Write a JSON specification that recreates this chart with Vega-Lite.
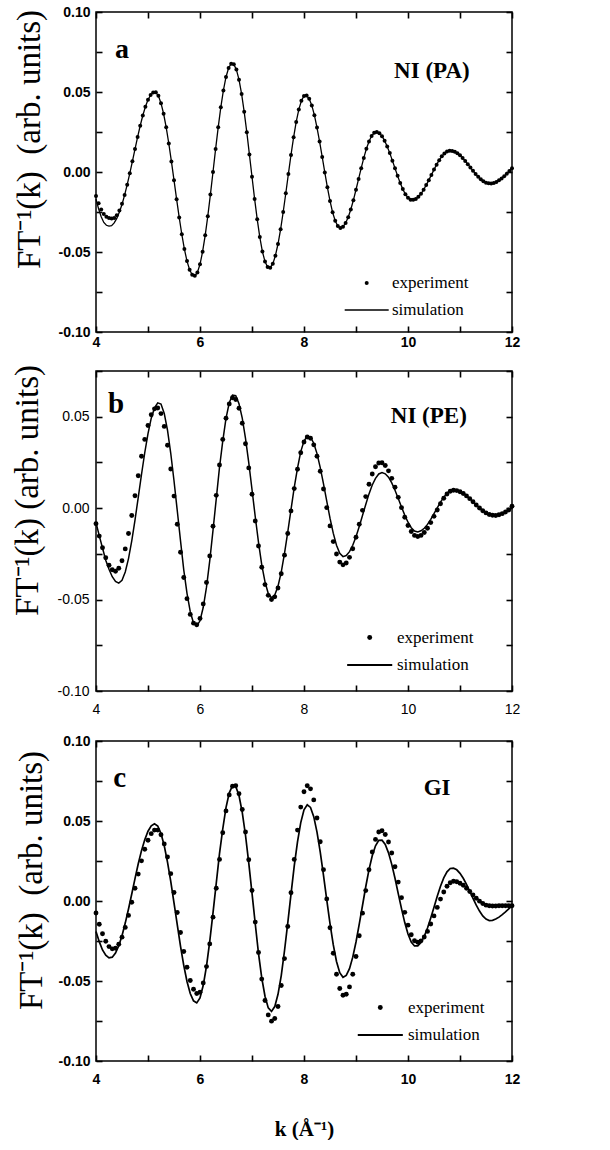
{
  "$schema": "https://vega.github.io/schema/vega-lite/v6.json",
  "background": "white",
  "padding": {"left": 10, "top": 4, "right": 0, "bottom": 0},
  "spacing": 13,
  "resolve": {"scale": {"shape": "independent"}, "legend": {"shape": "independent"}},
  "config": {
    "view": {"stroke": "black", "strokeWidth": 1.5},
    "axis": {"domain": false, "grid": false, "ticks": true, "tickSize": 6, "offset": -6, "tickColor": "black", "tickWidth": 1.6, "labelColor": "black", "labelFont": "Liberation Sans", "labelFontSize": 14, "titleColor": "black", "titleFont": "Liberation Serif", "titleFontSize": 33, "titleFontWeight": "normal"},
    "text": {"color": "black"}
  },
  "datasets": {
    "a": [
      {"k":4,"e":-0.015,"s":-0.017},{"k":4.05,"e":-0.0195,"s":-0.023},{"k":4.1,"e":-0.0235,"s":-0.028},{"k":4.15,"e":-0.0262,"s":-0.0315},{"k":4.2,"e":-0.028,"s":-0.0333},{"k":4.25,"e":-0.0288,"s":-0.0338},{"k":4.3,"e":-0.0291,"s":-0.0335},{"k":4.35,"e":-0.0287,"s":-0.0318},{"k":4.4,"e":-0.0271,"s":-0.029},{"k":4.45,"e":-0.0241,"s":-0.025},{"k":4.5,"e":-0.0198,"s":-0.0203},{"k":4.55,"e":-0.0143,"s":-0.0145},{"k":4.6,"e":-0.0079,"s":-0.0079},
      {"k":4.65,"e":-0.0008,"s":-0.0008},{"k":4.7,"e":0.0067,"s":0.0067},{"k":4.75,"e":0.0143,"s":0.0143},{"k":4.8,"e":0.0218,"s":0.0218},{"k":4.85,"e":0.0289,"s":0.0289},{"k":4.9,"e":0.0353,"s":0.0353},{"k":4.95,"e":0.0408,"s":0.0408},{"k":5,"e":0.0451,"s":0.0451},{"k":5.05,"e":0.0481,"s":0.0481},{"k":5.1,"e":0.0497,"s":0.0497},
      {"k":5.15,"e":0.0498,"s":0.0498},{"k":5.2,"e":0.0476,"s":0.0476},{"k":5.25,"e":0.043,"s":0.043},{"k":5.3,"e":0.0364,"s":0.0364},{"k":5.35,"e":0.0279,"s":0.0279},{"k":5.4,"e":0.0178,"s":0.0178},{"k":5.45,"e":0.0066,"s":0.0066},{"k":5.5,"e":-0.0051,"s":-0.0051},{"k":5.55,"e":-0.017,"s":-0.017},{"k":5.6,"e":-0.0284,"s":-0.0284},
      {"k":5.65,"e":-0.0389,"s":-0.0389},{"k":5.7,"e":-0.0482,"s":-0.0482},{"k":5.75,"e":-0.0557,"s":-0.0557},{"k":5.8,"e":-0.0611,"s":-0.0611},{"k":5.85,"e":-0.0642,"s":-0.0642},{"k":5.9,"e":-0.0649,"s":-0.0649},{"k":5.95,"e":-0.0628,"s":-0.0628},{"k":6,"e":-0.0577,"s":-0.0577},{"k":6.05,"e":-0.0498,"s":-0.0498},{"k":6.1,"e":-0.0396,"s":-0.0396},
      {"k":6.15,"e":-0.0276,"s":-0.0276},{"k":6.2,"e":-0.0141,"s":-0.0141},{"k":6.25,"e":0,"s":0},{"k":6.3,"e":0.0143,"s":0.0143},{"k":6.35,"e":0.0279,"s":0.0279},{"k":6.4,"e":0.0404,"s":0.0404},{"k":6.45,"e":0.051,"s":0.051},{"k":6.5,"e":0.0594,"s":0.0594},{"k":6.55,"e":0.065,"s":0.065},{"k":6.6,"e":0.0677,"s":0.0677},
      {"k":6.65,"e":0.0674,"s":0.0674},{"k":6.7,"e":0.064,"s":0.064},{"k":6.75,"e":0.0577,"s":0.0577},{"k":6.8,"e":0.0488,"s":0.0488},{"k":6.85,"e":0.0376,"s":0.0376},{"k":6.9,"e":0.0249,"s":0.0249},{"k":6.95,"e":0.011,"s":0.011},{"k":7,"e":-0.003,"s":-0.003},{"k":7.05,"e":-0.0168,"s":-0.0168},{"k":7.1,"e":-0.0295,"s":-0.0295},
      {"k":7.15,"e":-0.0407,"s":-0.0407},{"k":7.2,"e":-0.0497,"s":-0.0497},{"k":7.25,"e":-0.056,"s":-0.056},{"k":7.3,"e":-0.0594,"s":-0.0594},{"k":7.35,"e":-0.0598,"s":-0.0598},{"k":7.4,"e":-0.0574,"s":-0.0574},{"k":7.45,"e":-0.0523,"s":-0.0523},{"k":7.5,"e":-0.045,"s":-0.045},{"k":7.55,"e":-0.0358,"s":-0.0358},{"k":7.6,"e":-0.025,"s":-0.025},
      {"k":7.65,"e":-0.0133,"s":-0.0133},{"k":7.7,"e":-0.0012,"s":-0.0012},{"k":7.75,"e":0.0107,"s":0.0107},{"k":7.8,"e":0.0217,"s":0.0217},{"k":7.85,"e":0.0313,"s":0.0313},{"k":7.9,"e":0.039,"s":0.039},{"k":7.95,"e":0.0445,"s":0.0445},{"k":8,"e":0.0475,"s":0.0475},{"k":8.05,"e":0.0478,"s":0.0478},{"k":8.1,"e":0.0458,"s":0.0458},
      {"k":8.15,"e":0.0416,"s":0.0416},{"k":8.2,"e":0.0355,"s":0.0355},{"k":8.25,"e":0.0278,"s":0.0278},{"k":8.3,"e":0.019,"s":0.019},{"k":8.35,"e":0.0094,"s":0.0094},{"k":8.4,"e":-0.0003,"s":-0.0003},{"k":8.45,"e":-0.0096,"s":-0.0096},{"k":8.5,"e":-0.0181,"s":-0.0181},{"k":8.55,"e":-0.0252,"s":-0.0252},{"k":8.6,"e":-0.0305,"s":-0.0305},
      {"k":8.65,"e":-0.0338,"s":-0.0338},{"k":8.7,"e":-0.035,"s":-0.035},{"k":8.75,"e":-0.0342,"s":-0.0342},{"k":8.8,"e":-0.0319,"s":-0.0319},{"k":8.85,"e":-0.0283,"s":-0.0283},{"k":8.9,"e":-0.0234,"s":-0.0234},{"k":8.95,"e":-0.0176,"s":-0.0176},{"k":9,"e":-0.0111,"s":-0.0111},{"k":9.05,"e":-0.0043,"s":-0.0043},{"k":9.1,"e":0.0024,"s":0.0024},
      {"k":9.15,"e":0.0088,"s":0.0088},{"k":9.2,"e":0.0145,"s":0.0145},{"k":9.25,"e":0.0191,"s":0.0191},{"k":9.3,"e":0.0225,"s":0.0225},{"k":9.35,"e":0.0245,"s":0.0245},{"k":9.4,"e":0.025,"s":0.025},{"k":9.45,"e":0.0242,"s":0.0242},{"k":9.5,"e":0.0224,"s":0.0224},{"k":9.55,"e":0.0196,"s":0.0196},{"k":9.6,"e":0.016,"s":0.016},
      {"k":9.65,"e":0.0118,"s":0.0118},{"k":9.7,"e":0.0071,"s":0.0071},{"k":9.75,"e":0.0023,"s":0.0023},{"k":9.8,"e":-0.0024,"s":-0.0024},{"k":9.85,"e":-0.0069,"s":-0.0069},{"k":9.9,"e":-0.0107,"s":-0.0107},{"k":9.95,"e":-0.0139,"s":-0.0139},{"k":10,"e":-0.0161,"s":-0.0161},{"k":10.05,"e":-0.0173,"s":-0.0173},{"k":10.1,"e":-0.0174,"s":-0.0174},
      {"k":10.15,"e":-0.0168,"s":-0.0168},{"k":10.2,"e":-0.0155,"s":-0.0155},{"k":10.25,"e":-0.0136,"s":-0.0136},{"k":10.3,"e":-0.0111,"s":-0.0111},{"k":10.35,"e":-0.0082,"s":-0.0082},{"k":10.4,"e":-0.0051,"s":-0.0051},{"k":10.45,"e":-0.0018,"s":-0.0018},{"k":10.5,"e":0.0015,"s":0.0015},{"k":10.55,"e":0.0046,"s":0.0046},{"k":10.6,"e":0.0074,"s":0.0074},
      {"k":10.65,"e":0.0098,"s":0.0098},{"k":10.7,"e":0.0116,"s":0.0116},{"k":10.75,"e":0.0128,"s":0.0128},{"k":10.8,"e":0.0133,"s":0.0133},{"k":10.85,"e":0.0132,"s":0.0132},{"k":10.9,"e":0.0126,"s":0.0126},{"k":10.95,"e":0.0117,"s":0.0117},{"k":11,"e":0.0104,"s":0.0104},{"k":11.05,"e":0.0088,"s":0.0088},{"k":11.1,"e":0.0069,"s":0.0069},
      {"k":11.15,"e":0.0049,"s":0.0049},{"k":11.2,"e":0.0028,"s":0.0028},{"k":11.25,"e":0.0008,"s":0.0008},{"k":11.3,"e":-0.0012,"s":-0.0012},{"k":11.35,"e":-0.003,"s":-0.003},{"k":11.4,"e":-0.0046,"s":-0.0046},{"k":11.45,"e":-0.0058,"s":-0.0058},{"k":11.5,"e":-0.0067,"s":-0.0067},{"k":11.55,"e":-0.0071,"s":-0.0071},{"k":11.6,"e":-0.0072,"s":-0.0072},
      {"k":11.65,"e":-0.0069,"s":-0.0069},{"k":11.7,"e":-0.0062,"s":-0.0062},{"k":11.75,"e":-0.0052,"s":-0.0052},{"k":11.8,"e":-0.004,"s":-0.004},{"k":11.85,"e":-0.0026,"s":-0.0026},{"k":11.9,"e":-0.0011,"s":-0.0011},{"k":11.95,"e":0.0006,"s":0.0006},{"k":12,"e":0.0023,"s":0.0023}
    ],
    "b": [
      {"k":4,"e":-0.0085,"s":-0.008},{"k":4.0625,"e":-0.0153,"s":-0.015},{"k":4.125,"e":-0.0217,"s":-0.0218},{"k":4.1875,"e":-0.0271,"s":-0.0285},{"k":4.25,"e":-0.0312,"s":-0.0334},{"k":4.3125,"e":-0.0337,"s":-0.0375},{"k":4.375,"e":-0.0345,"s":-0.0401},{"k":4.4375,"e":-0.0329,"s":-0.041},
      {"k":4.5,"e":-0.0288,"s":-0.0395},{"k":4.5625,"e":-0.0223,"s":-0.0349},{"k":4.625,"e":-0.0139,"s":-0.0276},{"k":4.6875,"e":-0.004,"s":-0.0179},{"k":4.75,"e":0.0068,"s":-0.0065},{"k":4.8125,"e":0.0177,"s":0.0059},{"k":4.875,"e":0.0284,"s":0.0184},{"k":4.9375,"e":0.0376,"s":0.0303},
      {"k":5,"e":0.0452,"s":0.0407},{"k":5.0625,"e":0.0511,"s":0.0492},{"k":5.125,"e":0.0543,"s":0.0548},{"k":5.1875,"e":0.0548,"s":0.0576},{"k":5.25,"e":0.0517,"s":0.0569},{"k":5.3125,"e":0.0447,"s":0.0518},{"k":5.375,"e":0.0344,"s":0.0426},{"k":5.4375,"e":0.0214,"s":0.03},
      {"k":5.5,"e":0.0066,"s":0.015},{"k":5.5625,"e":-0.0088,"s":-0.0013},{"k":5.625,"e":-0.0241,"s":-0.0178},{"k":5.6875,"e":-0.0379,"s":-0.0338},{"k":5.75,"e":-0.0495,"s":-0.0466},{"k":5.8125,"e":-0.0581,"s":-0.0566},{"k":5.875,"e":-0.0629,"s":-0.0628},{"k":5.9375,"e":-0.0638,"s":-0.0645},
      {"k":6,"e":-0.0603,"s":-0.0616},{"k":6.0625,"e":-0.0524,"s":-0.0542},{"k":6.125,"e":-0.0407,"s":-0.0432},{"k":6.1875,"e":-0.0262,"s":-0.0287},{"k":6.25,"e":-0.0099,"s":-0.0122},{"k":6.3125,"e":0.007,"s":0.0051},{"k":6.375,"e":0.0236,"s":0.0223},{"k":6.4375,"e":0.0376,"s":0.0366},
      {"k":6.5,"e":0.0492,"s":0.0491},{"k":6.5625,"e":0.057,"s":0.0576},{"k":6.625,"e":0.0604,"s":0.0618},{"k":6.6875,"e":0.0594,"s":0.0615},{"k":6.75,"e":0.0546,"s":0.0571},{"k":6.8125,"e":0.0464,"s":0.0492},{"k":6.875,"e":0.0352,"s":0.0381},{"k":6.9375,"e":0.022,"s":0.0249},
      {"k":7,"e":0.0076,"s":0.0102},{"k":7.0625,"e":-0.007,"s":-0.0047},{"k":7.125,"e":-0.0207,"s":-0.0187},{"k":7.1875,"e":-0.0323,"s":-0.031},{"k":7.25,"e":-0.0418,"s":-0.0403},{"k":7.3125,"e":-0.0477,"s":-0.0467},{"k":7.375,"e":-0.05,"s":-0.049},{"k":7.4375,"e":-0.0485,"s":-0.0475},
      {"k":7.5,"e":-0.0437,"s":-0.0427},{"k":7.5625,"e":-0.0359,"s":-0.035},{"k":7.625,"e":-0.0257,"s":-0.0248},{"k":7.6875,"e":-0.0139,"s":-0.0131},{"k":7.75,"e":-0.0015,"s":-0.0008},{"k":7.8125,"e":0.0107,"s":0.0113},{"k":7.875,"e":0.0213,"s":0.0219},{"k":7.9375,"e":0.0303,"s":0.0309},
      {"k":8,"e":0.0362,"s":0.0367},{"k":8.0625,"e":0.0389,"s":0.0394},{"k":8.125,"e":0.0382,"s":0.0388},{"k":8.1875,"e":0.0346,"s":0.0355},{"k":8.25,"e":0.0284,"s":0.0298},{"k":8.3125,"e":0.0202,"s":0.0222},{"k":8.375,"e":0.0105,"s":0.0133},{"k":8.4375,"e":0.0003,"s":0.0038},
      {"k":8.5,"e":-0.0097,"s":-0.0055},{"k":8.5625,"e":-0.0183,"s":-0.0137},{"k":8.625,"e":-0.0251,"s":-0.0203},{"k":8.6875,"e":-0.0295,"s":-0.0247},{"k":8.75,"e":-0.031,"s":-0.0265},{"k":8.8125,"e":-0.03,"s":-0.0259},{"k":8.875,"e":-0.0269,"s":-0.0238},{"k":8.9375,"e":-0.0222,"s":-0.0203},
      {"k":9,"e":-0.0159,"s":-0.0156},{"k":9.0625,"e":-0.0088,"s":-0.01},{"k":9.125,"e":-0.0012,"s":-0.004},{"k":9.1875,"e":0.0063,"s":0.002},{"k":9.25,"e":0.0131,"s":0.0078},{"k":9.3125,"e":0.0187,"s":0.0127},{"k":9.375,"e":0.0226,"s":0.0163},{"k":9.4375,"e":0.0247,"s":0.0187},
      {"k":9.5,"e":0.0248,"s":0.0195},{"k":9.5625,"e":0.0233,"s":0.0188},{"k":9.625,"e":0.0204,"s":0.0169},{"k":9.6875,"e":0.0163,"s":0.0138},{"k":9.75,"e":0.0114,"s":0.0098},{"k":9.8125,"e":0.0059,"s":0.0053},{"k":9.875,"e":0.0003,"s":0.0006},{"k":9.9375,"e":-0.005,"s":-0.0038},
      {"k":10,"e":-0.0095,"s":-0.0077},{"k":10.0625,"e":-0.0128,"s":-0.0107},{"k":10.125,"e":-0.0149,"s":-0.0125},{"k":10.1875,"e":-0.0155,"s":-0.013},{"k":10.25,"e":-0.0149,"s":-0.0124},{"k":10.3125,"e":-0.0133,"s":-0.011},{"k":10.375,"e":-0.011,"s":-0.0089},{"k":10.4375,"e":-0.0079,"s":-0.0061},
      {"k":10.5,"e":-0.0045,"s":-0.003},{"k":10.5625,"e":-0.001,"s":0.0002},{"k":10.625,"e":0.0024,"s":0.0033},{"k":10.6875,"e":0.0054,"s":0.006},{"k":10.75,"e":0.0077,"s":0.0081},{"k":10.8125,"e":0.0092,"s":0.0095},{"k":10.875,"e":0.0098,"s":0.01},{"k":10.9375,"e":0.0096,"s":0.0098},
      {"k":11,"e":0.009,"s":0.0092},{"k":11.0625,"e":0.008,"s":0.0082},{"k":11.125,"e":0.0067,"s":0.0068},{"k":11.1875,"e":0.0052,"s":0.0053},{"k":11.25,"e":0.0035,"s":0.0036},{"k":11.3125,"e":0.0017,"s":0.0018},{"k":11.375,"e":0.0001,"s":0.0002},{"k":11.4375,"e":-0.0014,"s":-0.0013},
      {"k":11.5,"e":-0.0026,"s":-0.0025},{"k":11.5625,"e":-0.0035,"s":-0.0034},{"k":11.625,"e":-0.0039,"s":-0.0039},{"k":11.6875,"e":-0.004,"s":-0.004},{"k":11.75,"e":-0.0036,"s":-0.0037},{"k":11.8125,"e":-0.003,"s":-0.0031},{"k":11.875,"e":-0.0021,"s":-0.0022},{"k":11.9375,"e":-0.001,"s":-0.0011},
      {"k":12,"e":0.001,"s":0.0009}
    ],
    "c": [
      {"k":4,"e":-0.0075,"s":-0.019},{"k":4.0625,"e":-0.0145,"s":-0.0254},{"k":4.125,"e":-0.0205,"s":-0.0306},{"k":4.1875,"e":-0.0252,"s":-0.0339},{"k":4.25,"e":-0.0285,"s":-0.0355},{"k":4.3125,"e":-0.0299,"s":-0.0351},{"k":4.375,"e":-0.0295,"s":-0.0325},{"k":4.4375,"e":-0.027,"s":-0.028},
      {"k":4.5,"e":-0.0226,"s":-0.0217},{"k":4.5625,"e":-0.0165,"s":-0.0138},{"k":4.625,"e":-0.009,"s":-0.005},{"k":4.6875,"e":-0.0008,"s":0.0044},{"k":4.75,"e":0.008,"s":0.014},{"k":4.8125,"e":0.0168,"s":0.0233},{"k":4.875,"e":0.0251,"s":0.0315},{"k":4.9375,"e":0.0323,"s":0.0383},
      {"k":5,"e":0.038,"s":0.0436},{"k":5.0625,"e":0.0421,"s":0.047},{"k":5.125,"e":0.0443,"s":0.0483},{"k":5.1875,"e":0.0443,"s":0.0469},{"k":5.25,"e":0.0414,"s":0.0422},{"k":5.3125,"e":0.0357,"s":0.0345},{"k":5.375,"e":0.0275,"s":0.0243},{"k":5.4375,"e":0.0171,"s":0.0122},
      {"k":5.5,"e":0.0053,"s":-0.0011},{"k":5.5625,"e":-0.0072,"s":-0.0148},{"k":5.625,"e":-0.0197,"s":-0.0282},{"k":5.6875,"e":-0.0316,"s":-0.0402},{"k":5.75,"e":-0.0414,"s":-0.0503},{"k":5.8125,"e":-0.0497,"s":-0.0578},{"k":5.875,"e":-0.0552,"s":-0.0624},{"k":5.9375,"e":-0.0578,"s":-0.0637},
      {"k":6,"e":-0.057,"s":-0.0606},{"k":6.0625,"e":-0.0512,"s":-0.0527},{"k":6.125,"e":-0.041,"s":-0.0407},{"k":6.1875,"e":-0.0268,"s":-0.0252},{"k":6.25,"e":-0.0101,"s":-0.0074},{"k":6.3125,"e":0.008,"s":0.0111},{"k":6.375,"e":0.026,"s":0.0296},{"k":6.4375,"e":0.0427,"s":0.045},
      {"k":6.5,"e":0.0563,"s":0.0584},{"k":6.5625,"e":0.0663,"s":0.0676},{"k":6.625,"e":0.0717,"s":0.0721},{"k":6.6875,"e":0.072,"s":0.0716},{"k":6.75,"e":0.067,"s":0.0659},{"k":6.8125,"e":0.0572,"s":0.0554},{"k":6.875,"e":0.0431,"s":0.0411},{"k":6.9375,"e":0.0258,"s":0.0238},
      {"k":7,"e":0.0066,"s":0.0049},{"k":7.0625,"e":-0.0132,"s":-0.0142},{"k":7.125,"e":-0.0322,"s":-0.0328},{"k":7.1875,"e":-0.0488,"s":-0.0481},{"k":7.25,"e":-0.0622,"s":-0.0595},{"k":7.3125,"e":-0.0712,"s":-0.0668},{"k":7.375,"e":-0.0751,"s":-0.069},{"k":7.4375,"e":-0.0734,"s":-0.066},
      {"k":7.5,"e":-0.0659,"s":-0.0583},{"k":7.5625,"e":-0.0528,"s":-0.0466},{"k":7.625,"e":-0.036,"s":-0.0311},{"k":7.6875,"e":-0.0159,"s":-0.0138},{"k":7.75,"e":0.0052,"s":0.0043},{"k":7.8125,"e":0.026,"s":0.022},{"k":7.875,"e":0.0443,"s":0.0369},{"k":7.9375,"e":0.0587,"s":0.049},
      {"k":8,"e":0.0683,"s":0.057},{"k":8.0625,"e":0.072,"s":0.0601},{"k":8.125,"e":0.0701,"s":0.0585},{"k":8.1875,"e":0.0632,"s":0.0527},{"k":8.25,"e":0.0519,"s":0.043},{"k":8.3125,"e":0.037,"s":0.0306},{"k":8.375,"e":0.0196,"s":0.016},{"k":8.4375,"e":0.0013,"s":0.0007},
      {"k":8.5,"e":-0.0167,"s":-0.0142},{"k":8.5625,"e":-0.0327,"s":-0.0273},{"k":8.625,"e":-0.0458,"s":-0.0378},{"k":8.6875,"e":-0.0547,"s":-0.0448},{"k":8.75,"e":-0.0589,"s":-0.0477},{"k":8.8125,"e":-0.0583,"s":-0.0465},{"k":8.875,"e":-0.0537,"s":-0.0423},{"k":8.9375,"e":-0.0458,"s":-0.0351},
      {"k":9,"e":-0.0347,"s":-0.0256},{"k":9.0625,"e":-0.0217,"s":-0.0145},{"k":9.125,"e":-0.0076,"s":-0.0028},{"k":9.1875,"e":0.0065,"s":0.0089},{"k":9.25,"e":0.0195,"s":0.0196},{"k":9.3125,"e":0.0306,"s":0.0283},{"k":9.375,"e":0.0385,"s":0.0345},{"k":9.4375,"e":0.0431,"s":0.0379},
      {"k":9.5,"e":0.0439,"s":0.038},{"k":9.5625,"e":0.0416,"s":0.0353},{"k":9.625,"e":0.0369,"s":0.0301},{"k":9.6875,"e":0.03,"s":0.0229},{"k":9.75,"e":0.0214,"s":0.0142},{"k":9.8125,"e":0.0118,"s":0.0046},{"k":9.875,"e":0.0021,"s":-0.0048},{"k":9.9375,"e":-0.0071,"s":-0.0135},
      {"k":10,"e":-0.0151,"s":-0.0206},{"k":10.0625,"e":-0.0211,"s":-0.0256},{"k":10.125,"e":-0.0248,"s":-0.0281},{"k":10.1875,"e":-0.0258,"s":-0.028},{"k":10.25,"e":-0.0249,"s":-0.0259},{"k":10.3125,"e":-0.0225,"s":-0.0221},{"k":10.375,"e":-0.019,"s":-0.0169},{"k":10.4375,"e":-0.0144,"s":-0.0106},
      {"k":10.5,"e":-0.0093,"s":-0.0039},{"k":10.5625,"e":-0.004,"s":0.0029},{"k":10.625,"e":0.0012,"s":0.0092},{"k":10.6875,"e":0.0056,"s":0.0144},{"k":10.75,"e":0.0092,"s":0.0182},{"k":10.8125,"e":0.0114,"s":0.0203},{"k":10.875,"e":0.0123,"s":0.0205},{"k":10.9375,"e":0.012,"s":0.0195},
      {"k":11,"e":0.0111,"s":0.0173},{"k":11.0625,"e":0.0098,"s":0.0142},{"k":11.125,"e":0.008,"s":0.0104},{"k":11.1875,"e":0.0059,"s":0.0061},{"k":11.25,"e":0.0038,"s":0.0017},{"k":11.3125,"e":0.0017,"s":-0.0026},{"k":11.375,"e":-0.0001,"s":-0.0063},{"k":11.4375,"e":-0.0016,"s":-0.0093},
      {"k":11.5,"e":-0.0026,"s":-0.0113},{"k":11.5625,"e":-0.003,"s":-0.0122},{"k":11.625,"e":-0.0031,"s":-0.0121},{"k":11.6875,"e":-0.0031,"s":-0.0113},{"k":11.75,"e":-0.003,"s":-0.0101},{"k":11.8125,"e":-0.003,"s":-0.0085},{"k":11.875,"e":-0.003,"s":-0.0068},{"k":11.9375,"e":-0.003,"s":-0.0049},
      {"k":12,"e":-0.003,"s":-0.003}
    ]
  },
  "vconcat": [
    {
      "width": 416, "height": 320,
      "data": {"name": "a"},
      "layer": [
        {"mark": {"type": "line", "color": "black", "strokeWidth": 1.3},
         "encoding": {
           "x": {"field": "k", "type": "quantitative", "scale": {"domain": [4, 12], "nice": false, "zero": false},
                 "axis": {"orient": "top", "values": [4,5,6,7,8,9,10,11,12], "labels": false, "title": null}},
           "y": {"field": "s", "type": "quantitative", "scale": {"domain": [-0.1, 0.1], "nice": false, "zero": false},
                 "axis": {"orient": "right", "values": [-0.1,-0.075,-0.05,-0.025,0,0.025,0.05,0.075,0.1], "labels": false, "title": null}}
         }},
        {"transform": [{"fold": ["e", "s"], "as": ["series", "val"]}, {"filter": "datum.series == 'e'"}],
         "mark": {"type": "point", "filled": true, "color": "black", "opacity": 1, "size": 16},
         "encoding": {
           "x": {"field": "k", "type": "quantitative",
                 "axis": {"orient": "bottom", "values": [4,5,6,7,8,9,10,11,12], "labelExpr": "datum.value % 2 == 0 ? datum.label : ''", "labelFlush": false, "labelPadding": 3, "labelFontWeight": "bold", "title": null}},
           "y": {"field": "val", "type": "quantitative",
                 "axis": {"orient": "left", "values": [-0.1,-0.075,-0.05,-0.025,0,0.025,0.05,0.075,0.1], "labelExpr": "abs(round(datum.value*1000)) % 50 == 0 ? (datum.value < -0.0001 ? '-' : '') + format(abs(datum.value), '.2f') : ''", "labelPadding": 6, "labelFontWeight": "bold", "title": "FT⁻¹(k)\u00a0\u00a0(arb. units)", "titleX": -56, "titleY": 127}},
           "shape": {"field": "series", "type": "ordinal", "scale": {"domain": ["e", "s"], "range": ["circle", "M-11,-0.4L11,-0.4L11,0.4L-11,0.4Z"]},
                     "legend": {"orient": "none", "legendX": 262.2, "legendY": 262.5, "title": null, "padding": 0, "symbolSize": 16, "labelExpr": "datum.value == 'e' ? 'experiment' : 'simulation'", "labelFont": "Liberation Serif", "labelFontSize": 17, "labelColor": "black", "labelOffset": 16.8, "symbolFillColor": "black", "rowPadding": 9}}
         }},
        {"data": {"values": [{"t": "a"}]},
         "mark": {"type": "text", "font": "Liberation Serif", "fontWeight": "bold", "fontSize": 28, "align": "left", "baseline": "alphabetic", "color": "black"},
         "encoding": {"x": {"datum": 4.365, "type": "quantitative", "axis": null}, "y": {"datum": 0.0713, "type": "quantitative", "axis": null}, "text": {"field": "t"}}},
        {"data": {"values": [{"t": "NI (PA)"}]},
         "mark": {"type": "text", "font": "Liberation Serif", "fontWeight": "bold", "fontSize": 23, "align": "center", "baseline": "alphabetic", "color": "black"},
         "encoding": {"x": {"datum": 10.46, "type": "quantitative", "axis": null}, "y": {"datum": 0.0588, "type": "quantitative", "axis": null}, "text": {"field": "t"}}}
      ],
      "resolve": {"axis": {"x": "independent", "y": "independent"}}
    },
    {
      "spacing": 16,
      "resolve": {"scale": {"shape": "independent"}, "legend": {"shape": "independent"}},
      "vconcat": [
        {
          "width": 416, "height": 320,
          "data": {"name": "b"},
          "layer": [
            {"mark": {"type": "line", "color": "black", "strokeWidth": 1.5},
             "encoding": {
               "x": {"field": "k", "type": "quantitative", "scale": {"domain": [4, 12], "nice": false, "zero": false},
                     "axis": {"orient": "top", "values": [4,5,6,7,8,9,10,11,12], "labels": false, "title": null}},
               "y": {"field": "s", "type": "quantitative", "scale": {"domain": [-0.1, 0.075], "nice": false, "zero": false},
                     "axis": {"orient": "right", "values": [-0.1,-0.075,-0.05,-0.025,0,0.025,0.05,0.075], "labels": false, "title": null}}
             }},
            {"transform": [{"fold": ["e", "s"], "as": ["series", "val"]}, {"filter": "datum.series == 'e'"}],
             "mark": {"type": "point", "filled": true, "color": "black", "opacity": 1, "size": 24},
             "encoding": {
               "x": {"field": "k", "type": "quantitative",
                     "axis": {"orient": "bottom", "values": [4,5,6,7,8,9,10,11,12], "labelExpr": "datum.value % 2 == 0 ? datum.label : ''", "labelFlush": false, "labelPadding": 11, "labelFontWeight": "normal", "title": null}},
               "y": {"field": "val", "type": "quantitative",
                     "axis": {"orient": "left", "values": [-0.1,-0.075,-0.05,-0.025,0,0.025,0.05,0.075], "labelExpr": "abs(round(datum.value*1000)) % 50 == 0 ? (datum.value < -0.0001 ? '-' : '') + format(abs(datum.value), '.2f') : ''", "labelPadding": 7, "labelFontWeight": "normal", "title": "FT⁻¹(k)\u00a0(arb. units)", "titleX": -58, "titleY": 119}},
               "shape": {"field": "series", "type": "ordinal", "scale": {"domain": ["e", "s"], "range": ["circle", "M-9.2,-0.41L9.2,-0.41L9.2,0.41L-9.2,0.41Z"]},
                         "legend": {"orient": "none", "legendX": 265.2, "legendY": 258, "title": null, "padding": 0, "symbolSize": 24, "labelExpr": "datum.value == 'e' ? 'experiment' : 'simulation'", "labelFont": "Liberation Serif", "labelFontSize": 17, "labelColor": "black", "labelOffset": 18.8, "symbolFillColor": "black", "rowPadding": 9.6}}
             }},
            {"data": {"values": [{"t": "b"}]},
             "mark": {"type": "text", "font": "Liberation Serif", "fontWeight": "bold", "fontSize": 29, "align": "left", "baseline": "alphabetic", "color": "black"},
             "encoding": {"x": {"datum": 4.23, "type": "quantitative", "axis": null}, "y": {"datum": 0.0523, "type": "quantitative", "axis": null}, "text": {"field": "t"}}},
            {"data": {"values": [{"t": "NI (PE)"}]},
             "mark": {"type": "text", "font": "Liberation Serif", "fontWeight": "bold", "fontSize": 23, "align": "center", "baseline": "alphabetic", "color": "black"},
             "encoding": {"x": {"datum": 10.4, "type": "quantitative", "axis": null}, "y": {"datum": 0.0463, "type": "quantitative", "axis": null}, "text": {"field": "t"}}}
          ],
          "resolve": {"axis": {"x": "independent", "y": "independent"}}
        },
        {
          "width": 416, "height": 320,
          "data": {"name": "c"},
          "layer": [
            {"mark": {"type": "line", "color": "black", "strokeWidth": 1.7},
             "encoding": {
               "x": {"field": "k", "type": "quantitative", "scale": {"domain": [4, 12], "nice": false, "zero": false},
                     "axis": {"orient": "top", "values": [4,5,6,7,8,9,10,11,12], "labels": false, "title": null}},
               "y": {"field": "s", "type": "quantitative", "scale": {"domain": [-0.1, 0.1], "nice": false, "zero": false},
                     "axis": {"orient": "right", "values": [-0.1,-0.075,-0.05,-0.025,0,0.025,0.05,0.075,0.1], "labels": false, "title": null}}
             }},
            {"transform": [{"fold": ["e", "s"], "as": ["series", "val"]}, {"filter": "datum.series == 'e'"}],
             "mark": {"type": "point", "filled": true, "color": "black", "opacity": 1, "size": 24},
             "encoding": {
               "x": {"field": "k", "type": "quantitative",
                     "axis": {"orient": "bottom", "values": [4,5,6,7,8,9,10,11,12], "labelExpr": "datum.value % 2 == 0 ? datum.label : ''", "labelFlush": false, "labelPadding": 11, "labelFontWeight": "bold", "title": "k (Å⁻¹)", "titleFont": "Liberation Serif", "titleFontWeight": "bold", "titleFontSize": 21, "titleBaseline": "alphabetic", "titleY": 80}},
               "y": {"field": "val", "type": "quantitative",
                     "axis": {"orient": "left", "values": [-0.1,-0.075,-0.05,-0.025,0,0.025,0.05,0.075,0.1], "labelExpr": "abs(round(datum.value*1000)) % 50 == 0 ? (datum.value < -0.0001 ? '-' : '') + format(abs(datum.value), '.2f') : ''", "labelPadding": 6, "labelFontWeight": "bold", "title": "FT⁻¹(k)\u00a0\u00a0(arb. units)", "titleX": -54, "titleY": 139}},
               "shape": {"field": "series", "type": "ordinal", "scale": {"domain": ["e", "s"], "range": ["circle", "M-9.2,-0.41L9.2,-0.41L9.2,0.41L-9.2,0.41Z"]},
                         "legend": {"orient": "none", "legendX": 275.8, "legendY": 258, "title": null, "padding": 0, "symbolSize": 24, "labelExpr": "datum.value == 'e' ? 'experiment' : 'simulation'", "labelFont": "Liberation Serif", "labelFontSize": 17, "labelColor": "black", "labelOffset": 19.2, "symbolFillColor": "black", "rowPadding": 9.6}}
             }},
            {"data": {"values": [{"t": "c"}]},
             "mark": {"type": "text", "font": "Liberation Serif", "fontWeight": "bold", "fontSize": 29, "align": "left", "baseline": "alphabetic", "color": "black"},
             "encoding": {"x": {"datum": 4.33, "type": "quantitative", "axis": null}, "y": {"datum": 0.0714, "type": "quantitative", "axis": null}, "text": {"field": "t"}}},
            {"data": {"values": [{"t": "GI"}]},
             "mark": {"type": "text", "font": "Liberation Serif", "fontWeight": "bold", "fontSize": 23, "align": "center", "baseline": "alphabetic", "color": "black"},
             "encoding": {"x": {"datum": 10.56, "type": "quantitative", "axis": null}, "y": {"datum": 0.0664, "type": "quantitative", "axis": null}, "text": {"field": "t"}}}
          ],
          "resolve": {"axis": {"x": "independent", "y": "independent"}}
        }
      ]
    }
  ]
}
